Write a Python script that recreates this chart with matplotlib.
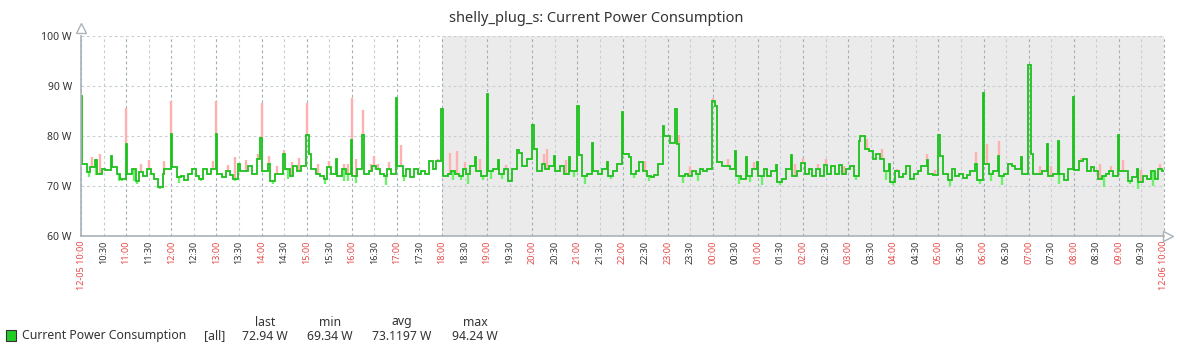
import matplotlib
matplotlib.use("Agg")
import matplotlib.pyplot as plt
from matplotlib.patches import Rectangle
import numpy as np

plt.rcParams['font.family'] = ['Noto Sans', 'DejaVu Sans']

title = "shelly_plug_s: Current Power Consumption"
item_name = "Current Power Consumption"
first_label = "12-05 10:00"
last_label = "12-06 10:00"

# avg power, one value every 5 minutes from 12-05 10:00 to 12-06 10:00
avg_w = [
    88, 74.4, 72.8, 73.8, 75.2, 72.5, 73.5, 73.2, 76, 73.8, 72.5, 71.5,      # 10
    78.5, 72.5, 73.5, 71, 72.8, 72, 73.5, 72.5, 71.5, 69.8, 72.5, 73.5,      # 11
    80.5, 73.8, 71.8, 72, 71.2, 72.5, 73.5, 72, 71.5, 73.5, 72.5, 73.5,      # 12
    80.5, 72.5, 71.8, 73, 72.2, 71.5, 74.5, 73, 73, 74, 72.5, 75.5,          # 13
    79.7, 73, 74.5, 71, 72.5, 72.5, 76.5, 73.5, 72, 74, 73, 74,              # 14
    80.3, 76.4, 73.5, 72.5, 72, 71.5, 73.8, 72.5, 75.5, 72, 73.5, 72.5,      # 15
    79.2, 72, 73.5, 80.2, 72.5, 73, 74, 73.5, 72.5, 72, 73.5, 72.5,          # 16
    87.6, 74, 72, 73.5, 71.8, 73.5, 72.5, 73, 72.5, 75, 73.5, 75,            # 17
    85.4, 72, 72.5, 73, 72.5, 72, 73.5, 72.5, 74, 75.8, 73, 72,              # 18
    88.4, 73, 73.5, 75.2, 72.5, 73.5, 71, 73.5, 77.3, 76.7, 74, 75.5,        # 19
    82.2, 77.5, 73, 74.5, 73.5, 74, 76, 73, 74, 72.5, 75.8, 73,              # 20
    86, 76.3, 72, 72.5, 78.6, 73, 72.5, 73.5, 74.8, 72, 73, 74.5,            # 21
    84.8, 76.5, 75.8, 72.5, 73, 74.8, 73, 72, 71.8, 72.3, 74.5, 82,          # 22
    80, 78.6, 85.4, 78.5, 72, 72.5, 72, 73, 72.5, 73.5, 73, 73.5,            # 23
    87, 86, 74.8, 74, 74, 73.5, 77, 72, 71.5, 75.8, 72, 73.5,                # 00
    74.8, 72, 73.5, 72, 73, 74.3, 70.8, 71.5, 73.5, 76.2, 72, 73,            # 01
    74.7, 72.5, 73.5, 72, 73.5, 72, 74.2, 72.5, 74, 72.5, 74.3, 72.5,        # 02
    73.5, 74, 72, 79, 80, 77.5, 77, 75.5, 76.5, 75.5, 73, 74.5,              # 03
    70.8, 73, 71.8, 72.5, 74, 71.5, 72.5, 73, 74, 75.2, 72.5, 72.2,          # 04
    80.2, 76, 72.5, 71.2, 73.5, 72, 72.5, 71.7, 72.3, 73, 74.5, 71.2,        # 05
    88.7, 74.5, 72.5, 73, 76, 72, 72.5, 74.5, 74, 73.5, 75.9, 72.5,          # 06
    94.24, 76.5, 72.5, 72.5, 73, 78.4, 72, 72.5, 79, 72.5, 71.2, 73.5,       # 07
    87.9, 73.2, 75, 75.5, 73, 73.8, 73, 71.5, 72, 72.5, 73, 72,              # 08
    80.2, 73, 73, 71, 71.8, 73.5, 70.8, 72, 71.5, 73, 71.5, 73.5,            # 09
    72.94,
]

# where the max line pokes out above avg
max_peaks = [
    ("10:15", 75.8), ("10:25", 76.4), ("11:00", 85.7), ("11:20", 74.5), ("11:30", 75.2),
    ("11:50", 75.0), ("12:00", 87.0), ("12:55", 75.0), ("13:00", 87.0), ("13:15", 74.3),
    ("13:25", 75.8), ("13:40", 75.2), ("13:55", 76.4), ("14:00", 86.7), ("14:10", 76.0),
    ("14:20", 74.0), ("14:30", 77.3), ("14:40", 74.8), ("14:50", 75.6), ("15:00", 86.7),
    ("15:15", 74.5), ("15:30", 75.0), ("15:50", 74.5), ("15:55", 74.5), ("16:00", 87.6),
    ("16:05", 75.5), ("16:15", 85.2), ("16:25", 74.5), ("16:30", 76.0), ("16:35", 74.5),
    ("16:50", 74.8), ("17:05", 78.2), ("17:55", 75.5), ("18:10", 76.6), ("18:20", 77.0),
    ("18:30", 74.8), ("18:50", 75.5), ("19:25", 74.2), ("20:15", 76.5), ("20:20", 77.4),
    ("20:45", 75.2), ("22:30", 75.0), ("23:15", 80.3), ("23:30", 74.0), ("00:00", 87.6),
    ("00:20", 75.5), ("00:55", 74.8), ("01:25", 74.5), ("01:50", 74.5), ("02:00", 75.6),
    ("02:20", 74.5), ("02:30", 75.4), ("02:55", 74.0), ("03:25", 79.5), ("03:45", 77.5),
    ("04:05", 73.5), ("04:45", 76.5), ("04:55", 73.2), ("05:50", 76.9), ("06:05", 78.5),
    ("06:20", 79.0), ("07:15", 74.0), ("07:30", 74.0), ("08:10", 75.7), ("08:35", 74.5),
    ("08:50", 74.0), ("09:05", 75.3), ("09:30", 73.2), ("09:55", 74.5),
]

# where the min line dips below avg
min_dips = [
    ("10:10", 71.8), ("10:20", 72.3), ("10:50", 71.0), ("10:55", 71.0), ("11:10", 71.0),
    ("11:15", 70.5), ("11:45", 69.5), ("12:10", 70.6), ("12:40", 71.0), ("13:25", 71.0),
    ("14:15", 70.5), ("14:35", 71.5), ("15:25", 70.5), ("15:50", 71.0), ("15:55", 71.0),
    ("16:05", 70.7), ("16:45", 70.2), ("17:10", 71.0), ("18:15", 71.2), ("18:25", 71.2),
    ("18:35", 70.5), ("18:55", 71.2), ("19:05", 71.5), ("19:20", 71.5), ("19:30", 70.8),
    ("20:55", 71.8), ("21:10", 70.4), ("21:45", 71.5), ("22:15", 71.6), ("22:35", 71.0),
    ("23:20", 70.7), ("23:40", 71.0), ("00:35", 70.5), ("00:50", 70.8), ("01:05", 70.3),
    ("01:30", 70.3), ("03:10", 71.3), ("03:50", 71.2), ("04:00", 70.2), ("05:15", 70.0),
    ("05:55", 70.5), ("06:10", 71.0), ("06:25", 70.3), ("07:40", 70.5), ("08:40", 69.9),
    ("09:15", 70.5), ("09:25", 69.34), ("09:45", 70.0),
]

stat_names = ["last", "min", "avg", "max"]
stat_values = ["72.94 W", "69.34 W", "73.1197 W", "94.24 W"]

y_ticks = [60, 70, 80, 90, 100]
workday_end = 8  # hours after 10:00 -> 18:00, rest is shaded

GREEN = "#1cc21c"
PINK = "#ffb0b0"
LIGHT_GREEN = "#6cf06c"
RED = "#e84848"
GRID_H = "#a3afb7"
GRID_L = "#c8cfd4"
AXIS = "#a9b2b9"


def to_slot(hhmm):
    h, m = [int(p) for p in hhmm.split(":")]
    return (((h - 10) % 24) * 60 + m) // 5


W, H = 1177, 354
fig = plt.figure(figsize=(W / 100, H / 100), dpi=100)
ax = fig.add_axes([81 / W, 1 - 236 / H, 1083 / W, 200 / H])

t = np.arange(len(avg_w)) / 12.0
avg = np.array(avg_w)
slot = 1 / 12.0
n = len(avg)

ax.axvspan(workday_end, 24, color="#ebebeb", zorder=0, lw=0)

for i in range(49):
    ax.axvline(i * 0.5, color=GRID_H if i % 2 == 0 else GRID_L, lw=0.8,
               linestyle=(0, (2.5, 2.5)), zorder=1, clip_on=False)
for y in y_ticks[1:]:
    ax.axhline(y, color=GRID_L, lw=0.8, linestyle=(0, (2.5, 2.5)), zorder=1)

mx_idx = [to_slot(s) for s, v in max_peaks]
ax.vlines(t[mx_idx], avg[mx_idx], [v for s, v in max_peaks], color=PINK, lw=1.7, zorder=2)
mn_idx = [to_slot(s) for s, v in min_dips]
ax.vlines(t[mn_idx], [v for s, v in min_dips], avg[mn_idx], color=LIGHT_GREEN, lw=1.7, zorder=2)

# step line, but big spikes get a narrow step so they look like thin needles
left = np.r_[avg[0], avg[:-1]]
right = np.r_[avg[1:], avg[-1]]
pk = (avg - np.minimum(left, right)) > 2.5
edges = np.r_[t - slot / 2, t[-1] + slot / 2]
for i in range(1, n):
    if pk[i] and not pk[i - 1]:
        edges[i] = t[i] - 0.15 * slot
    elif pk[i - 1] and not pk[i]:
        edges[i] = t[i - 1] + 0.15 * slot
xs = np.repeat(edges, 2)[1:-1]
ys = np.repeat(avg, 2)
ax.plot(xs, ys, color=GREEN, lw=1.3, zorder=3, solid_joinstyle="miter")

ax.set_xlim(0, 24)
ax.set_ylim(60, 100)
ax.set_yticks(y_ticks)
ax.set_yticklabels(["%d W" % v for v in y_ticks], fontsize=7.5, color="#333333")

xt = [i * 0.5 for i in range(49)]
xl = []
for i in range(49):
    hh = (10 + i // 2) % 24
    xl.append("%02d:%02d" % (hh, 30 * (i % 2)))
xl[0] = first_label
xl[-1] = last_label
ax.set_xticks(xt)
ax.set_xticklabels(xl, rotation=90, fontsize=6.5)
for i, lab in enumerate(ax.get_xticklabels()):
    lab.set_color(RED if i % 2 == 0 else "#333333")
ax.tick_params(axis="x", length=0, pad=3.5)
ax.tick_params(axis="y", length=0, pad=6.5)

for side in ["top", "right"]:
    ax.spines[side].set_visible(False)
for side in ["left", "bottom"]:
    ax.spines[side].set_color(AXIS)
    ax.spines[side].set_linewidth(1.2)
    ax.spines[side].set_zorder(4)

# axis arrow heads
ax.plot([0], [1.04], marker="^", ms=7, mfc="white", mec=AXIS, mew=1,
        transform=ax.transAxes, clip_on=False)
ax.plot([1.004], [0], marker=">", ms=7, mfc="white", mec=AXIS, mew=1,
        transform=ax.transAxes, clip_on=False)

fig.text(596 / W, 1 - 19 / H, title, ha="center", va="center", fontsize=10.5, color="#333333")

# legend
fig.patches.append(Rectangle((5.5 / W, 1 - 341 / H), 11 / W, 11 / H, transform=fig.transFigure,
                             facecolor="#22cc22", edgecolor="#333333", lw=0.8))
fig.text(22 / W, 1 - 336 / H, item_name, ha="left", va="center", fontsize=8.8, color="#333333")
fig.text(204 / W, 1 - 336 / H, "[all]", ha="left", va="center", fontsize=8.8, color="#333333")
for xc, name, val in zip([265, 330, 402, 475], stat_names, stat_values):
    fig.text(xc / W, 1 - 322 / H, name, ha="center", va="center", fontsize=8.8, color="#333333")
    fig.text(xc / W, 1 - 336 / H, val, ha="center", va="center", fontsize=8.8, color="#333333")

fig.savefig("out.png", dpi=100)
